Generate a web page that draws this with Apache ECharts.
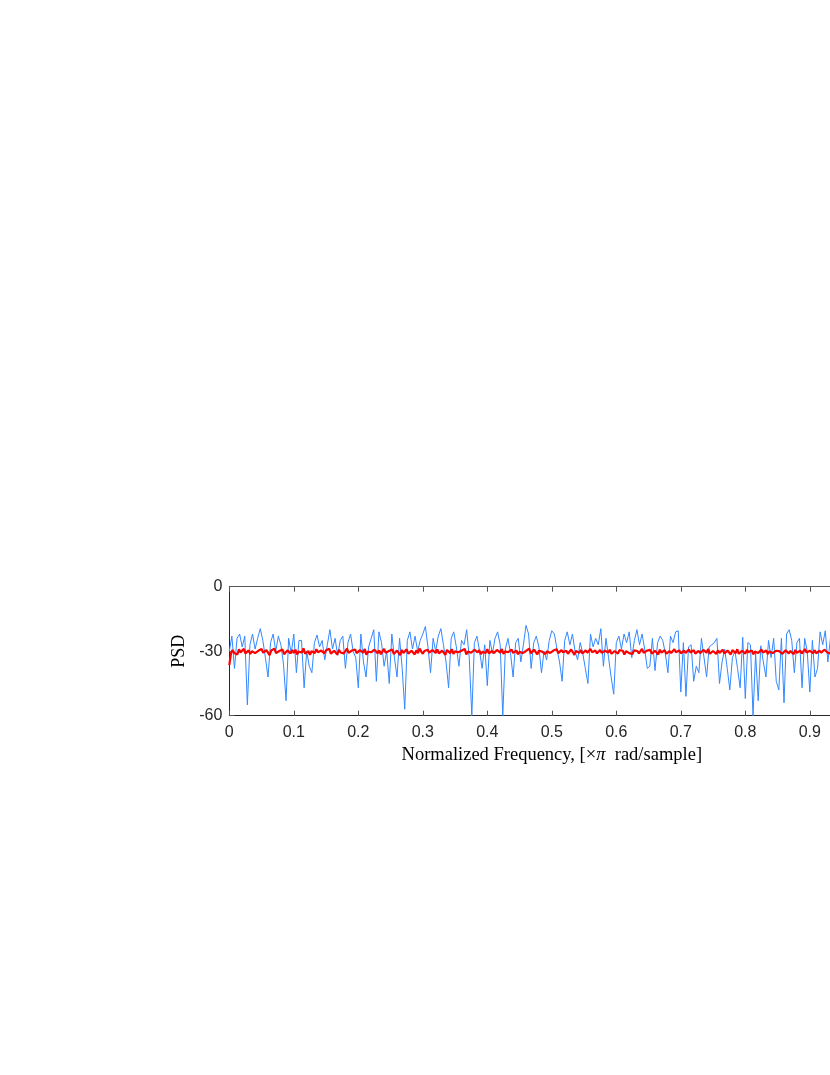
<!DOCTYPE html>
<html>
<head>
<meta charset="utf-8">
<script src="https://cdn.jsdelivr.net/npm/echarts@6/dist/echarts.min.js"></script>
<style>
html,body{margin:0;padding:0;background:#fff;overflow:hidden;width:830px;height:1075px;}
#chart{width:920px;height:1075px;}
</style>
</head>
<body>
<div id="chart"></div>
<script>
// Frequency grids (normalized, x pi rad/sample)
const blueStep = 0.004;
const redStep = 0.0025;
// Periodogram (blue), dB
const bluePSD = [
-30,-23,-38,-24,-22,-28,-23,-55,-27,-22,-29,-24,-19.5,-25,-33,-42,-26,-22,-30,-23,
-27,-36,-53,-24,-31,-22,-40,-25,-25,-47,-30,-37,-40,-26,-22.5,-28,-25,-34,-27,-20,
-29,-24,-32,-25,-23,-38,-26,-22,-30,-33,-47,-22,-35,-42,-28,-24,-20,-44,-21,-26,
-37,-30,-45,-22,-33,-42,-24,-38,-57,-25,-21,-29,-23,-30,-25,-22,-18.5,-28,-40,-24,
-30,-23,-19.5,-27,-35,-47,-24,-21,-28,-37,-25,-27,-20,-33,-60,-26,-23,-30,-38,-27,
-46,-25,-31,-24,-21,-27,-60,-29,-24,-31,-42,-26,-24,-35,-27,-18,-22,-38,-26,-23,
-28,-40,-30,-34,-25,-20.5,-22,-29,-35,-44,-25,-21,-27,-22,-30,-34,-26,-31,-38,-45,
-22,-28,-24,-27,-19.5,-37,-24,-33,-42,-50,-26,-23,-29,-22,-26,-21,-33,-25,-20,-27,
-22,-29,-38,-37,-24,-39,-26,-23,-25,-31,-40,-23,-26,-21,-20.5,-49,-26,-51,-28,-27,
-44,-37,-40,-24,-33,-42,-28,-27,-26,-24,-45,-35,-29,-38,-48,-33,-30,-38,-47,-23.5,
-52,-26,-27,-60,-31,-53,-27.5,-35,-42,-25,-33,-24,-44,-48,-24,-54,-22,-20,-25,-40,
-26,-24,-47,-24,-30,-49,-25,-42,-38,-21,-27,-20.5,-35,-24,-28,-22,-36,-25,-30,-44,
-23,-27,-21,-33,-26,-39,-24,-29,-22,-31,-27
];
// Smoothed PSD estimate (red), dB
const redPSD = [
-36.5,-31.2,-29.4,-30.8,-29.9,-31.5,-29.1,-30.6,-30.2,-28.9,-31.0,-30.4,-29.6,-31.3,-30.0,-29.3,-30.9,-31.6,-29.8,-30.3,
-29.0,-30.7,-31.1,-29.5,-30.1,-31.8,-29.7,-30.5,-28.8,-30.9,-31.2,-29.9,-30.3,-29.2,-31.4,-30.6,-29.6,-30.0,-31.0,-29.4,
-30.8,-29.3,-31.5,-30.2,-29.8,-30.6,-28.7,-31.1,-30.4,-29.9,-31.7,-30.0,-29.5,-30.9,-29.1,-30.5,-31.3,-29.7,-30.2,-31.0,
-29.6,-30.4,-28.9,-31.2,-30.7,-29.8,-30.1,-31.5,-29.4,-30.6,-29.9,-31.0,-30.3,-28.8,-30.8,-31.4,-29.7,-30.0,-29.2,-30.9,
-31.1,-29.5,-30.3,-30.7,-29.0,-31.6,-30.2,-29.8,-30.5,-31.2,-29.3,-30.0,-30.9,-29.6,-31.4,-30.1,-28.9,-30.7,-31.0,-29.9,
-30.4,-29.2,-31.3,-30.6,-29.7,-30.2,-31.8,-29.4,-30.8,-30.0,-29.1,-31.1,-30.5,-29.8,-30.3,-31.5,-29.6,-30.9,-28.8,-30.1,
-31.2,-29.9,-30.4,-29.3,-30.7,-31.4,-29.5,-30.0,-30.8,-29.2,-31.0,-30.3,-29.7,-30.6,-31.7,-29.4,-30.2,-30.9,-29.0,-31.3,
-30.1,-29.6,-30.5,-31.1,-29.8,-30.4,-28.9,-31.5,-30.2,-29.9,-30.7,-31.2,-29.3,-30.0,-30.6,-29.5,-31.4,-30.3,-29.7,-30.8,
-29.1,-31.0,-30.4,-29.8,-30.9,-31.6,-29.4,-30.2,-30.7,-29.0,-31.3,-30.1,-29.6,-30.5,-31.1,-29.2,-30.8,-30.0,-29.7,-31.4,
-30.3,-29.5,-30.9,-31.2,-29.9,-30.4,-28.8,-31.0,-30.6,-29.3,-30.1,-31.5,-29.8,-30.7,-30.2,-29.4,-31.3,-30.0,-29.6,-30.8,
-31.0,-29.7,-30.3,-29.1,-30.9,-31.4,-29.5,-30.5,-30.0,-29.8,-31.2,-30.6,-29.2,-30.4,-31.7,-29.9,-30.1,-30.8,-29.4,-31.1,
-30.2,-29.6,-30.7,-31.3,-29.0,-30.5,-30.9,-29.7,-31.0,-30.3,-29.4,-30.8,-31.5,-29.8,-30.1,-30.6,-29.3,-31.2,-30.4,-29.9,
-30.7,-31.1,-29.5,-30.2,-29.8,-31.6,-30.0,-29.2,-30.9,-30.4,-31.3,-29.6,-30.5,-29.9,-31.0,-30.2,-28.9,-30.8,-31.4,-29.7,
-30.3,-29.4,-31.1,-30.6,-29.8,-30.0,-31.5,-29.3,-30.7,-30.2,-29.5,-31.2,-30.4,-29.9,-30.9,-31.3,-29.1,-30.5,-30.1,-29.6,
-31.0,-30.3,-29.7,-30.8,-31.4,-29.2,-30.6,-30.0,-29.5,-31.1,-30.4,-29.8,-30.9,-31.6,-29.4,-30.2,-30.7,-29.0,-31.2,-30.5,
-29.9,-30.1,-31.3,-29.6,-30.8,-30.4,-29.3,-31.0,-30.2,-29.7,-30.6,-31.5,-29.5,-30.0,-30.9,-29.1,-31.2,-30.3,-29.8,-30.7,
-31.1,-29.4,-30.5,-30.0,-29.6,-31.4,-30.2,-29.9,-30.8,-31.0,-29.2,-30.6,-30.3,-29.7,-31.3,-30.1,-29.5,-30.9,-31.6,-29.8,
-30.4,-30.0,-29.3,-31.2,-30.7,-29.6,-30.2,-31.0,-29.9,-30.5,-31.4,-29.4,-30.8,-30.1,-29.7,-31.1,-30.3,-29.0,-30.6,-31.3,
-29.8,-30.4,-30.9,-29.5,-31.0,-30.2,-29.7,-30.7,-31.5,-29.3,-30.1,-30.6,-29.9,-31.2,-30.4,-29.6,-30.8,-31.0,-29.2,-30.3,
-30.9,-29.7,-30.5,-31.3,-29.4,-30.0,-30.8,-29.8,-31.1,-30.3,-29.5,-30.6,-31.4,-29.9,-30.2,-30.7,-29.3,-31.0,-30.4,-29.8,
-30.5
];
const xTitle = 'Normalized Frequency, [\u00d7{i|\u03c0}  rad/sample]';
const yTitle = 'PSD';

const blueData = bluePSD.map((v, i) => [+(i * blueStep).toFixed(4), v]);
const redData = redPSD.map((v, i) => [+(i * redStep).toFixed(4), v]);

const chart = echarts.init(document.getElementById('chart'), null, {renderer: 'canvas'});
const axisColor = '#262626';
const labelFont = {color: axisColor, fontFamily: 'Liberation Sans, Arial, sans-serif', fontSize: 16};
const serif = 'Liberation Serif, Times New Roman, serif';
chart.setOption({
  animation: false,
  backgroundColor: '#ffffff',
  grid: {left: 229.3, top: 586.7, bottom: 359.3, right: 45.7, containLabel: false},
  xAxis: [{
    type: 'value', min: 0, max: 1, interval: 0.1, position: 'bottom',
    axisLine: {show: true, onZero: false, lineStyle: {color: axisColor, width: 1}},
    axisTick: {show: true, inside: true, length: 5, lineStyle: {color: '#555', width: 1}},
    splitLine: {show: false},
    axisLabel: Object.assign({margin: 9, formatter: v => String(+v.toFixed(1))}, labelFont),
    name: xTitle, nameLocation: 'middle', nameGap: 30,
    nameTextStyle: {color: '#000', fontFamily: serif, fontSize: 18.5,
      rich: {i: {fontStyle: 'italic', fontFamily: serif, fontSize: 18.5, color: '#000'}}}
  }, {
    type: 'value', min: 0, max: 1, interval: 0.1, position: 'top',
    axisLine: {show: true, onZero: false, lineStyle: {color: '#555', width: 1}},
    axisTick: {show: true, inside: true, length: 5, lineStyle: {color: '#555', width: 1}},
    splitLine: {show: false}, axisLabel: {show: false}
  }],
  yAxis: [{
    type: 'value', min: -60, max: 0, interval: 30, position: 'left',
    axisLine: {show: true, onZero: false, lineStyle: {color: axisColor, width: 1}},
    axisTick: {show: true, inside: true, length: 5, lineStyle: {color: '#555', width: 1}},
    splitLine: {show: false},
    axisLabel: Object.assign({margin: 7}, labelFont),
    name: yTitle, nameLocation: 'middle', nameGap: 38, nameRotate: 90,
    nameTextStyle: {color: '#000', fontFamily: serif, fontSize: 18}
  }, {
    type: 'value', min: -60, max: 0, interval: 30, position: 'right',
    axisLine: {show: true, onZero: false, lineStyle: {color: '#555', width: 1}},
    axisTick: {show: true, inside: true, length: 5},
    splitLine: {show: false}, axisLabel: {show: false}
  }],
  series: [{
    type: 'line', data: blueData, xAxisIndex: 0, yAxisIndex: 0,
    showSymbol: false, symbol: 'none',
    lineStyle: {color: '#3388ff', width: 1}, z: 2
  }, {
    type: 'line', data: redData, xAxisIndex: 0, yAxisIndex: 0,
    showSymbol: false, symbol: 'none',
    lineStyle: {color: '#ff0000', width: 2.2}, z: 3
  }]
});
</script>
</body>
</html>
